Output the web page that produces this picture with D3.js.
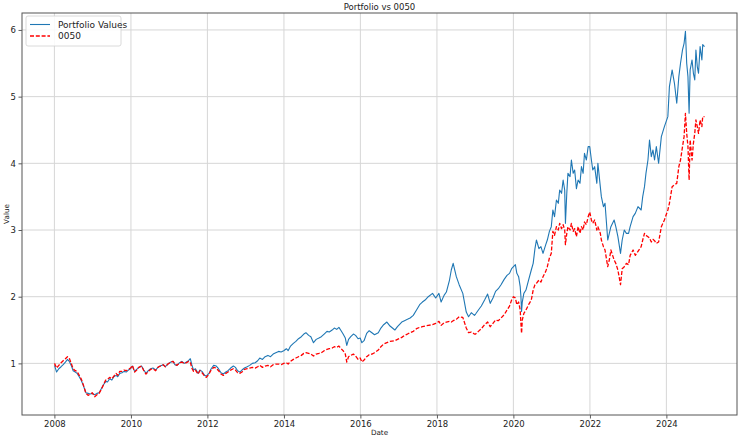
<!DOCTYPE html>
<html>
<head>
<meta charset="utf-8">
<script src="https://cdn.jsdelivr.net/npm/d3@7"></script>
<style>
  html, body { margin: 0; padding: 0; background: #fff; }
  svg { display: block; font-family: "DejaVu Sans", sans-serif; }
</style>
</head>
<body>
<svg id="chart" width="740" height="440"></svg>
<script>
const title = "Portfolio vs 0050";
const xLabel = "Date";
const yLabel = "Value";
const seriesNames = ["Portfolio Values", "0050"];
const xTickYears = [2008, 2010, 2012, 2014, 2016, 2018, 2020, 2022, 2024];
const yTickValues = [1, 2, 3, 4, 5, 6];

const dates = [
"2008-01-02","2008-01-22","2008-02-12","2008-03-05","2008-03-25","2008-04-15","2008-05-05","2008-05-22","2008-06-12","2008-06-28",
"2008-07-18","2008-08-05","2008-08-25","2008-09-15","2008-10-05","2008-10-28","2008-11-18","2008-12-08","2008-12-28",
"2009-01-20","2009-02-10","2009-03-03","2009-03-24","2009-04-14","2009-05-05","2009-05-22","2009-06-12","2009-07-03","2009-07-22",
"2009-08-12","2009-08-28","2009-09-16","2009-10-07","2009-10-27","2009-11-17","2009-12-08","2009-12-28",
"2010-01-15","2010-02-05","2010-02-25","2010-03-17","2010-04-12","2010-05-04","2010-05-25","2010-06-15","2010-07-08","2010-07-30",
"2010-08-25","2010-09-15","2010-10-08","2010-11-05","2010-11-25","2010-12-20",
"2011-01-17","2011-02-07","2011-02-25","2011-03-16","2011-04-11","2011-05-02","2011-05-25","2011-06-15","2011-07-05","2011-07-22",
"2011-08-05","2011-08-22","2011-09-09","2011-10-04","2011-10-21","2011-11-10","2011-12-05","2011-12-22",
"2012-01-16","2012-02-06","2012-03-01","2012-03-26","2012-04-16","2012-05-10","2012-06-01","2012-06-25","2012-07-16","2012-08-10",
"2012-09-05","2012-09-25","2012-10-15","2012-11-05","2012-11-26","2012-12-20",
"2013-01-15","2013-02-08","2013-03-05","2013-04-01","2013-04-25","2013-05-15","2013-06-10","2013-07-05","2013-08-01","2013-08-26",
"2013-09-20","2013-10-15","2013-11-11","2013-12-05","2013-12-30",
"2014-01-24","2014-02-10","2014-03-05","2014-04-01","2014-04-25","2014-05-20","2014-06-16","2014-07-10","2014-07-30","2014-08-25",
"2014-09-15","2014-10-10","2014-11-05","2014-12-01","2014-12-24",
"2015-01-20","2015-02-16","2015-03-10","2015-04-06","2015-04-27","2015-05-20","2015-06-10","2015-07-01","2015-07-20","2015-08-10",
"2015-08-24","2015-09-10","2015-10-01","2015-10-26","2015-11-16","2015-12-10","2015-12-30",
"2016-01-15","2016-02-05","2016-03-01","2016-03-25","2016-04-20","2016-05-15","2016-06-20","2016-07-15","2016-08-10","2016-09-10",
"2016-10-10","2016-11-25","2016-12-20",
"2017-01-30","2017-02-25","2017-03-25","2017-04-20","2017-05-20","2017-06-20","2017-07-20","2017-08-15","2017-09-10","2017-10-10",
"2017-11-20","2017-12-20",
"2018-01-20","2018-02-10","2018-03-10","2018-04-01","2018-05-01","2018-05-18","2018-06-05","2018-07-05","2018-08-01","2018-09-05",
"2018-10-08","2018-10-30","2018-11-25","2018-12-25",
"2019-01-05","2019-02-01","2019-03-01","2019-04-01","2019-04-30","2019-05-25","2019-06-20","2019-07-15","2019-08-10","2019-09-05",
"2019-10-05","2019-11-01","2019-11-25","2019-12-15",
"2020-01-02","2020-01-20","2020-02-03","2020-02-20","2020-03-06","2020-03-13","2020-03-19","2020-03-26","2020-04-10","2020-04-30",
"2020-05-25","2020-06-20","2020-07-08","2020-07-25","2020-08-08","2020-09-01","2020-09-20","2020-10-10","2020-11-05","2020-11-20",
"2020-12-10","2020-12-28",
"2021-01-12","2021-01-28","2021-02-15","2021-03-05","2021-03-18","2021-04-05","2021-04-20","2021-05-05","2021-05-12","2021-05-25",
"2021-06-05","2021-06-25","2021-07-08","2021-07-25","2021-08-08","2021-08-25","2021-09-10","2021-09-28","2021-10-12","2021-10-28",
"2021-11-10","2021-11-28","2021-12-15","2021-12-30",
"2022-01-15","2022-01-28","2022-02-15","2022-03-08","2022-03-18","2022-04-10","2022-04-20","2022-05-10","2022-05-25","2022-06-20",
"2022-07-05","2022-07-20","2022-08-20","2022-09-05","2022-09-25","2022-10-20","2022-11-05","2022-11-25","2022-12-15",
"2023-01-05","2023-01-20","2023-02-17","2023-03-10","2023-04-05","2023-05-05","2023-05-20","2023-06-06","2023-06-20","2023-07-09",
"2023-07-24","2023-08-10","2023-08-26","2023-09-10","2023-09-27","2023-10-19","2023-11-14","2023-12-13",
"2024-01-15","2024-01-30","2024-02-25","2024-03-18","2024-04-09","2024-04-29","2024-05-15","2024-06-03","2024-06-18","2024-07-01",
"2024-07-13","2024-07-25","2024-08-05","2024-08-15","2024-09-02","2024-09-15","2024-09-28","2024-10-09","2024-10-22","2024-11-03",
"2024-11-18","2024-12-05","2024-12-13","2024-12-30"
];

const portfolioValues = [
0.97,0.87,0.92,0.95,0.98,1.02,1.06,1.03,0.96,0.89,
0.87,0.85,0.80,0.74,0.66,0.56,0.55,0.54,0.55,
0.53,0.55,0.56,0.62,0.68,0.73,0.72,0.77,0.75,0.80,
0.82,0.80,0.85,0.86,0.88,0.87,0.90,0.92,
0.96,0.88,0.91,0.94,0.96,0.90,0.85,0.89,0.92,0.93,
0.90,0.94,0.96,0.98,0.95,0.99,
1.02,1.03,0.98,0.97,1.01,1.03,1.00,1.02,1.04,1.07,
0.98,0.90,0.92,0.85,0.90,0.88,0.82,0.81,
0.85,0.92,0.97,0.96,0.92,0.86,0.84,0.87,0.89,0.93,
0.96,0.94,0.89,0.87,0.90,0.93,
0.95,0.97,1.00,1.01,1.04,1.08,1.06,1.10,1.12,1.10,
1.14,1.16,1.18,1.17,1.19,
1.22,1.19,1.26,1.30,1.33,1.37,1.40,1.44,1.46,1.42,
1.40,1.31,1.36,1.38,1.40,
1.44,1.48,1.47,1.50,1.53,1.51,1.54,1.49,1.44,1.38,
1.27,1.36,1.40,1.44,1.42,1.37,1.38,
1.31,1.34,1.45,1.49,1.46,1.43,1.46,1.53,1.58,1.62,
1.56,1.50,1.55,
1.62,1.64,1.66,1.68,1.72,1.80,1.88,1.92,1.95,2.00,
2.05,1.98,
2.05,1.92,2.02,2.07,2.25,2.40,2.50,2.30,2.18,2.05,
1.77,1.70,1.76,1.72,
1.74,1.80,1.86,1.95,2.04,1.90,1.98,2.08,2.12,2.18,
2.26,2.32,2.35,2.42,
2.45,2.48,2.35,2.30,2.15,2.00,1.78,1.92,2.05,2.10,
2.25,2.40,2.50,2.72,2.85,2.72,2.75,2.65,2.78,2.85,
2.98,3.05,
3.30,3.20,3.45,3.40,3.60,3.55,3.75,3.60,3.10,3.55,
3.85,3.80,4.05,3.85,3.90,3.62,3.75,3.70,3.95,3.85,
4.15,4.05,4.25,4.25,
4.05,3.90,3.95,3.70,4.00,3.65,3.50,3.35,3.40,2.85,
2.95,3.05,3.15,3.05,2.90,2.65,2.85,3.00,2.95,
2.95,3.05,3.20,3.25,3.35,3.30,3.50,3.65,3.85,4.05,
4.35,4.10,4.20,4.05,4.25,4.00,4.40,4.55,
4.70,5.15,5.40,5.20,4.90,5.30,5.50,5.70,5.80,5.98,
5.50,5.30,4.75,5.40,5.55,5.35,5.25,5.70,5.45,5.35,
5.75,5.55,5.78,5.75
];

const etf0050Values = [
1.00,0.93,0.97,1.01,1.04,1.07,1.10,1.08,0.99,0.92,
0.89,0.88,0.82,0.76,0.67,0.55,0.52,0.54,0.56,
0.50,0.53,0.55,0.61,0.68,0.75,0.76,0.79,0.77,0.81,
0.85,0.82,0.88,0.88,0.90,0.89,0.91,0.93,
0.97,0.87,0.90,0.94,0.96,0.89,0.84,0.88,0.91,0.92,
0.89,0.94,0.96,0.98,0.95,0.99,
1.02,1.03,0.99,0.97,1.01,1.02,1.00,1.01,1.03,1.02,
0.93,0.88,0.90,0.84,0.89,0.86,0.81,0.79,
0.84,0.90,0.94,0.93,0.89,0.84,0.82,0.85,0.87,0.90,
0.92,0.90,0.86,0.85,0.87,0.91,
0.92,0.93,0.94,0.93,0.95,0.97,0.94,0.96,0.97,0.95,
0.98,0.99,0.99,0.98,1.00,
1.01,0.99,1.03,1.06,1.08,1.10,1.12,1.15,1.16,1.15,
1.14,1.11,1.14,1.15,1.16,
1.19,1.21,1.22,1.23,1.25,1.24,1.26,1.22,1.19,1.14,
1.02,1.10,1.12,1.14,1.11,1.06,1.08,
1.02,1.05,1.10,1.13,1.14,1.16,1.20,1.25,1.29,1.31,
1.33,1.34,1.36,
1.39,1.42,1.44,1.46,1.48,1.52,1.54,1.55,1.56,1.57,
1.58,1.60,
1.63,1.57,1.61,1.62,1.63,1.62,1.64,1.66,1.70,1.69,
1.53,1.46,1.47,1.44,
1.44,1.48,1.52,1.58,1.62,1.55,1.60,1.65,1.64,1.68,
1.73,1.80,1.86,1.95,
2.00,1.98,1.88,1.92,1.80,1.60,1.45,1.65,1.75,1.80,
1.88,1.95,2.10,2.18,2.20,2.25,2.22,2.30,2.38,2.45,
2.58,2.65,
2.98,2.92,3.05,3.00,3.10,3.02,3.08,3.00,2.78,2.95,
3.05,3.00,3.10,2.98,3.02,2.90,3.05,2.95,3.05,3.00,
3.12,3.08,3.20,3.27,
3.15,3.10,3.15,3.00,3.05,2.95,2.85,2.75,2.70,2.45,
2.55,2.70,2.55,2.50,2.40,2.18,2.42,2.45,2.50,
2.48,2.62,2.70,2.62,2.68,2.75,2.85,2.95,2.92,2.90,
2.88,2.82,2.86,2.84,2.80,2.82,3.05,3.15,
3.30,3.40,3.65,3.68,3.70,3.95,4.05,4.25,4.40,4.75,
4.45,4.25,3.75,4.35,4.05,4.30,4.45,4.65,4.55,4.45,
4.65,4.55,4.70,4.70
];

const parse = d3.timeParse("%Y-%m-%d");
const dateObjs = dates.map(parse);
const series = [
  { name: seriesNames[0], values: portfolioValues, color: "#1f77b4", dash: null, width: 1.1 },
  { name: seriesNames[1], values: etf0050Values, color: "#ff0000", dash: "4,1.8", width: 1.3 }
];

const svg = d3.select("#chart");
const margin = { left: 22, right: 3, top: 13, bottom: 25 };
const W = 740, H = 440;
const pw = W - margin.left - margin.right;
const ph = H - margin.top - margin.bottom;

// matplotlib-like 5% margins
const xExt = d3.extent(dateObjs);
const xSpan = xExt[1] - xExt[0];
const x = d3.scaleTime()
  .domain([new Date(+xExt[0] - 0.05 * xSpan), new Date(+xExt[1] + 0.05 * xSpan)])
  .range([margin.left, margin.left + pw]);
const allVals = portfolioValues.concat(etf0050Values);
const yExt = d3.extent(allVals);
const ySpan = yExt[1] - yExt[0];
const y = d3.scaleLinear()
  .domain([yExt[0] - 0.05 * ySpan, yExt[1] + 0.05 * ySpan])
  .range([margin.top + ph, margin.top]);

const xTicks = xTickYears.map(yy => new Date(yy, 0, 1));

// grid
const grid = svg.append("g");
grid.selectAll("line.vx").data(xTicks).enter().append("line")
  .attr("x1", d => x(d)).attr("x2", d => x(d))
  .attr("y1", margin.top).attr("y2", margin.top + ph)
  .attr("stroke", "#d6d6d6").attr("stroke-width", 1);
grid.selectAll("line.hy").data(yTickValues).enter().append("line")
  .attr("x1", margin.left).attr("x2", margin.left + pw)
  .attr("y1", d => y(d)).attr("y2", d => y(d))
  .attr("stroke", "#d6d6d6").attr("stroke-width", 1);

// lines
const clipId = "plotclip";
svg.append("clipPath").attr("id", clipId).append("rect")
  .attr("x", margin.left).attr("y", margin.top).attr("width", pw).attr("height", ph);
const lineGen = vals => d3.line()
  .x((d, i) => x(dateObjs[i]))
  .y(d => y(d))(vals);
series.forEach(s => {
  svg.append("path")
    .attr("d", lineGen(s.values))
    .attr("fill", "none")
    .attr("stroke", s.color)
    .attr("stroke-width", s.width)
    .attr("stroke-dasharray", s.dash)
    .attr("stroke-linejoin", "round")
    .attr("clip-path", `url(#${clipId})`);
});

// axes
const xAxis = d3.axisBottom(x).tickValues(xTicks).tickFormat(d3.timeFormat("%Y")).tickSize(3.5).tickPadding(2.5);
const yAxis = d3.axisLeft(y).tickValues(yTickValues).tickFormat(d3.format("d")).tickSize(3.5).tickPadding(2.5);
const gx = svg.append("g").attr("transform", `translate(0,${margin.top + ph})`).call(xAxis);
const gy = svg.append("g").attr("transform", `translate(${margin.left},0)`).call(yAxis);
[gx, gy].forEach(g => {
  g.select(".domain").remove();
  g.selectAll(".tick line").attr("stroke", "#333").attr("stroke-width", 0.8);
  g.selectAll(".tick text").attr("fill", "#222").style("font-size", "8.5px").style("font-family", "DejaVu Sans");
});

// frame
svg.append("rect")
  .attr("x", margin.left).attr("y", margin.top).attr("width", pw).attr("height", ph)
  .attr("fill", "none").attr("stroke", "#555").attr("stroke-width", 1);

// title and labels
svg.append("text").attr("x", margin.left + pw / 2).attr("y", 10)
  .attr("text-anchor", "middle").style("font-size", "8.5px").attr("fill", "#222").text(title);
svg.append("text").attr("x", margin.left + pw / 2).attr("y", 435)
  .attr("text-anchor", "middle").style("font-size", "7.2px").attr("fill", "#222").text(xLabel);
svg.append("text").attr("transform", `translate(9,${margin.top + ph / 2}) rotate(-90)`)
  .attr("text-anchor", "middle").style("font-size", "7.2px").attr("fill", "#222").text(yLabel);

// legend
const lg = svg.append("g").attr("transform", `translate(${margin.left + 4},${margin.top + 3})`);
lg.append("rect").attr("x", 0).attr("y", 0).attr("width", 95).attr("height", 30)
  .attr("rx", 2).attr("fill", "#fff").attr("fill-opacity", 0.85)
  .attr("stroke", "#d0d0d0").attr("stroke-width", 0.8);
series.forEach((s, i) => {
  const yy = 8.5 + i * 11.5;
  lg.append("line").attr("x1", 4).attr("x2", 24).attr("y1", yy).attr("y2", yy)
    .attr("stroke", s.color).attr("stroke-width", s.width).attr("stroke-dasharray", s.dash);
  lg.append("text").attr("x", 32).attr("y", yy + 3.2).style("font-size", "9px")
    .attr("fill", "#222").text(s.name);
});
</script>
</body>
</html>
